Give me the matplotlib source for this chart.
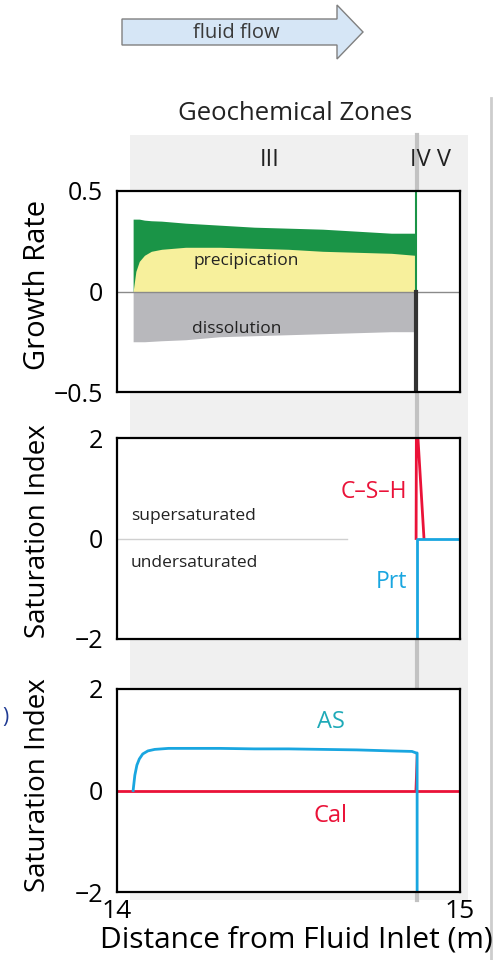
import numpy as np
import matplotlib
matplotlib.use("Agg")
from matplotlib import pyplot as plt
from matplotlib.patches import Polygon, Rectangle
from matplotlib.lines import Line2D

plt.rcParams['font.family'] = ['Open Sans', 'DejaVu Sans']

# ---- data ----
# growth rate panel
x_grow = [14.047, 14.055, 14.065, 14.08, 14.1, 14.13, 14.2, 14.3, 14.4, 14.5, 14.6, 14.7, 14.8, 14.87]
green_top = [0.36, 0.36, 0.36, 0.355, 0.352, 0.35, 0.34, 0.33, 0.32, 0.315, 0.31, 0.30, 0.29, 0.29]
yellow_top = [0.0, 0.10, 0.15, 0.18, 0.20, 0.21, 0.22, 0.22, 0.215, 0.21, 0.20, 0.195, 0.19, 0.18]
dissolution = [-0.25, -0.25, -0.25, -0.25, -0.248, -0.245, -0.24, -0.225, -0.22, -0.215, -0.21, -0.205, -0.20, -0.20]
zone_boundary = 14.873

# saturation index, C-S-H and portlandite
csh_x = [14.872, 14.873, 14.895]
csh_y = [0.0, 2.5, 0.0]
prt_x = [14.874, 14.874, 15.0]
prt_y = [-2.5, 0.0, 0.0]

# saturation index, amorphous silica and calcite
as_x = [14.047, 14.052, 14.058, 14.065, 14.075, 14.09, 14.11, 14.15, 14.2, 14.3, 14.4,
        14.5, 14.6, 14.7, 14.8, 14.86, 14.872, 14.875, 14.875]
as_y = [0.0, 0.3, 0.5, 0.62, 0.72, 0.78, 0.81, 0.83, 0.83, 0.83, 0.82,
        0.82, 0.81, 0.80, 0.78, 0.77, 0.74, 0.74, -2.5]
cal_x = [14.0, 15.0]
cal_y = [0.0, 0.0]
cal_spike_x = [14.866, 14.870, 14.875]
cal_spike_y = [0.0, 0.74, 0.74]

xticks = [14, 15]
grow_ticks = [-0.5, 0, 0.5]
grow_ticklabels = ['\u22120.5', '0', '0.5']
si_ticks = [-2, 0, 2]
si_ticklabels = ['\u22122', '0', '2']

green = '#1A9447'
yellow = '#F7F09C'
grey = '#B8B8BC'
red = '#EA1238'
blue = '#19A6E0'
teal = '#1FAAB8'

W, H = 497, 960
fig = plt.figure(figsize=(W / 100, H / 100), dpi=100, facecolor='white')


def fx(px):
    return px / W


def fy(py):
    return 1 - py / H


# grey background of the zones figure
fig.add_artist(Rectangle((fx(130), fy(900)), fx(468) - fx(130), fy(135) - fy(900),
                         transform=fig.transFigure, facecolor='#F0F0F0', edgecolor='none', zorder=-3))
fig.add_artist(Line2D([fx(417), fx(417)], [fy(900), fy(135)], transform=fig.transFigure,
                      color='#C2C2C2', lw=3, zorder=-2))
fig.add_artist(Line2D([fx(491), fx(491)], [fy(960), fy(98)], transform=fig.transFigure,
                      color='#CDCDCD', lw=2, zorder=-2))

# fluid flow arrow
arrow = [(122, 19), (337, 19), (337, 5), (363, 32), (337, 59), (337, 45), (122, 45)]
fig.add_artist(Polygon([(fx(a), fy(b)) for a, b in arrow], closed=True, transform=fig.transFigure,
                       facecolor='#D6E6F6', edgecolor='#808080', lw=1))
fig.text(fx(236), fy(33), 'fluid flow', ha='center', va='center', fontsize=14.5, color='#3A3A3A')

fig.text(fx(295), fy(114), 'Geochemical Zones', ha='center', va='center', fontsize=18.5, color='#222222')
fig.text(fx(270), fy(160), 'III', ha='center', va='center', fontsize=17, color='#222222')
fig.text(fx(431), fy(160), 'IV V', ha='center', va='center', fontsize=17, color='#222222')
fig.text(fx(2), fy(718), ')', ha='left', va='center', fontsize=15, color='#1F3A93')

left, width = fx(117), fx(460) - fx(117)
ax1 = fig.add_axes([left, fy(392), width, fy(191) - fy(392)])
ax2 = fig.add_axes([left, fy(639), width, fy(438) - fy(639)])
ax3 = fig.add_axes([left, fy(892), width, fy(689) - fy(892)])

for ax in (ax1, ax2, ax3):
    ax.set_xlim(14, 15)
    for s in ax.spines.values():
        s.set_linewidth(1.6)
    ax.tick_params(length=0, labelsize=18, pad=10)

# panel 1: growth rate
ax1.set_ylim(-0.5, 0.5)
ax1.fill_between(x_grow, 0, green_top, color=green, lw=0)
ax1.fill_between(x_grow, 0, yellow_top, color=yellow, lw=0)
ax1.fill_between(x_grow, dissolution, 0, color=grey, lw=0)
ax1.axhline(0, color='#8A8A8A', lw=1)
ax1.plot([zone_boundary, zone_boundary], [0, 0.5], color=green, lw=1.5)
ax1.plot([zone_boundary, zone_boundary], [-0.5, 0], color='#333333', lw=3)
ax1.text(14.376, 0.153, 'precipication', ha='center', va='center', fontsize=12.5, color='#222222')
ax1.text(14.35, -0.188, 'dissolution', ha='center', va='center', fontsize=12.5, color='#222222')
ax1.set_yticks(grow_ticks, grow_ticklabels)
ax1.set_xticks([])

# panel 2: C-S-H and portlandite
ax2.set_ylim(-2, 2)
ax2.plot([14.0, 14.67], [0, 0], color='#D0D0D0', lw=1)
ax2.plot(csh_x, csh_y, color=red, lw=2)
ax2.plot(prt_x, prt_y, color=blue, lw=2)
ax2.text(14.041, 0.44, 'supersaturated', ha='left', va='center', fontsize=12.5, color='#222222')
ax2.text(14.041, -0.48, 'undersaturated', ha='left', va='center', fontsize=12.5, color='#222222')
ax2.text(14.845, 0.92, 'C\u2013S\u2013H', ha='right', va='center', fontsize=16.5, color=red)
ax2.text(14.845, -0.86, 'Prt', ha='right', va='center', fontsize=16.5, color=blue)
ax2.set_yticks(si_ticks, si_ticklabels)
ax2.set_xticks([])

# panel 3: amorphous silica and calcite
ax3.set_ylim(-2, 2)
ax3.plot(cal_x, cal_y, color=red, lw=2)
ax3.fill_between(cal_spike_x, 0, cal_spike_y, color=red, lw=0)
ax3.plot(as_x, as_y, color=blue, lw=2)
ax3.text(14.624, 1.34, 'AS', ha='center', va='center', fontsize=17, color=teal)
ax3.text(14.621, -0.50, 'Cal', ha='center', va='center', fontsize=17, color=red)
ax3.set_yticks(si_ticks, si_ticklabels)
ax3.set_xticks(xticks, [str(t) for t in xticks])
ax3.tick_params(axis='x', labelsize=19, pad=5)

# axis labels
fig.text(fx(38), fy(285), 'Growth Rate', rotation=90, ha='center', va='center', fontsize=21)
fig.text(fx(38), fy(531), 'Saturation Index', rotation=90, ha='center', va='center', fontsize=20)
fig.text(fx(38), fy(785), 'Saturation Index', rotation=90, ha='center', va='center', fontsize=20)
fig.text(fx(296), fy(940), 'Distance from Fluid Inlet (m)', ha='center', va='center', fontsize=21.5)

fig.savefig('out.png', dpi=100)
